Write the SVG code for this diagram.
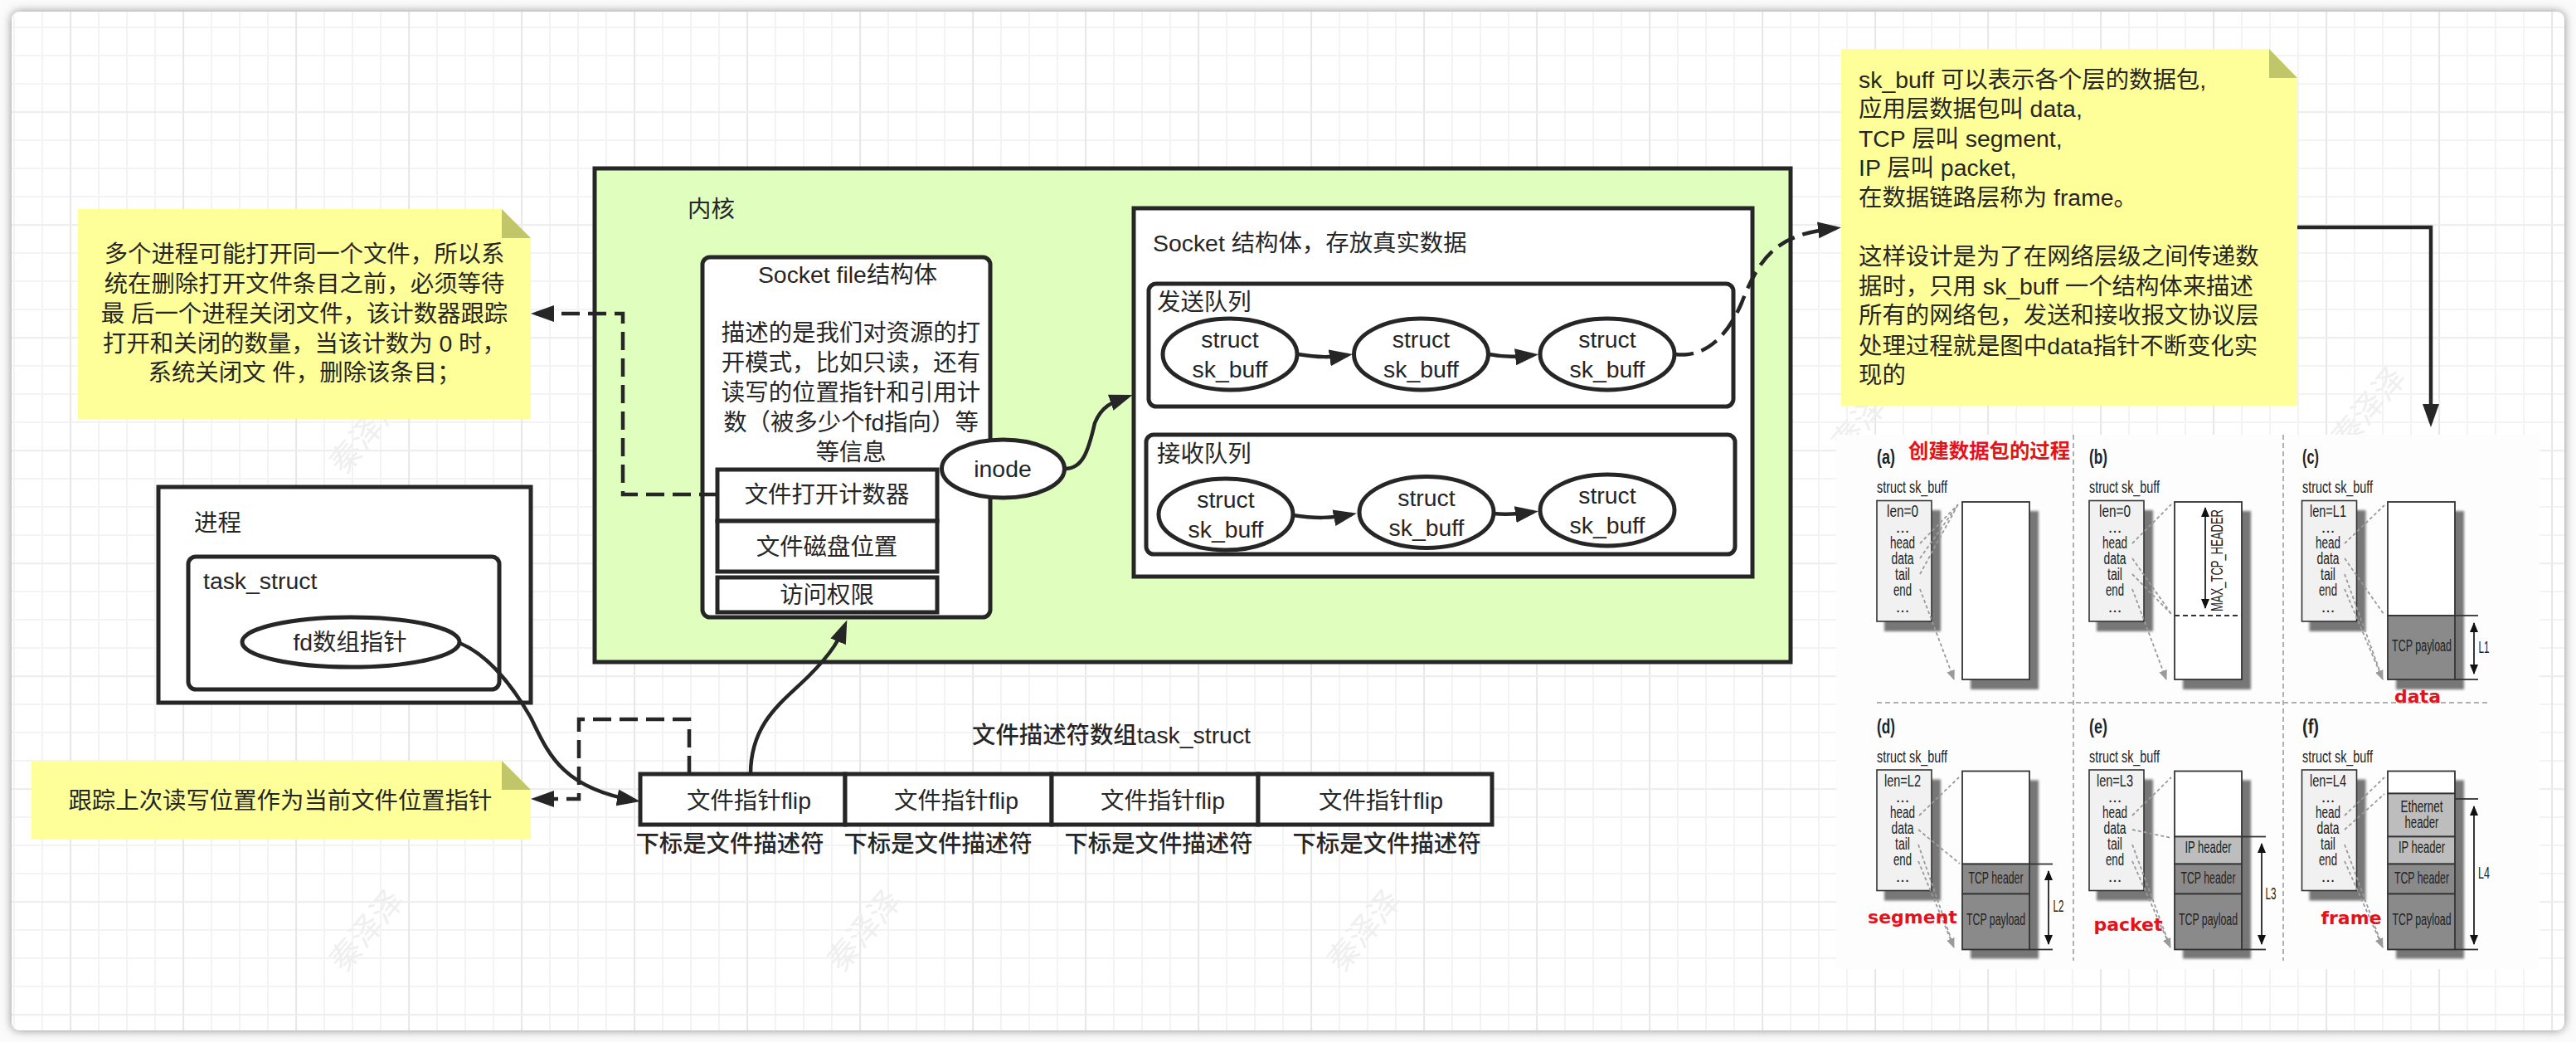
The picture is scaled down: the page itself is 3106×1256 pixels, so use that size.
<svg xmlns="http://www.w3.org/2000/svg" xmlns:xlink="http://www.w3.org/1999/xlink" width="3106" height="1256" viewBox="0 0 3106 1256">
<style>
text{font-family:"Liberation Sans","Noto Sans CJK SC",sans-serif;fill:#262626}
.t{font-size:28.4px}
.m{text-anchor:middle}
.b{stroke:#262626;stroke-width:5;fill:#fff}
.note{fill:#ffff99}
.fold{fill:#c2c66b}
.c{fill:none;stroke:#262626;stroke-width:4.5}
.d{stroke-dasharray:22 10}
.wm{font-size:38px;fill:#efefef;text-anchor:middle}
.s{font-size:20px;text-anchor:middle;fill:#222}
.h{font-size:20px;fill:#222}
.l{font-size:23px;font-weight:bold;fill:#222}
.red{font-family:"DejaVu Sans",sans-serif;font-size:22px;font-weight:bold;fill:#e3131b;text-anchor:middle}
.sb{fill:#f1f1f1;stroke:#333;stroke-width:1.6}
.bf{fill:#fff;stroke:#333;stroke-width:1.8}
.sh{fill:#777;filter:url(#bl)}
.dk{fill:#8a8a8a;stroke:#333;stroke-width:1.8}
.lt{fill:#bdbdbd;stroke:#333;stroke-width:1.8}
.ar{fill:none;stroke:#9a9a9a;stroke-width:1.8;stroke-dasharray:4 3;marker-end:url(#ga)}
.rf{stroke:#333;stroke-width:1.8}
.dm{stroke:#222;stroke-width:1.8;marker-start:url(#ka);marker-end:url(#ka)}
.dv{stroke:#b0b0b0;stroke-width:2;stroke-dasharray:6 4}
</style>
<defs>
<pattern id="grid" patternUnits="userSpaceOnUse" x="84" y="134" width="136" height="136">
<path d="M35 0V136M69 0V136M103 0V136M0 35H136M0 69H136M0 103H136" stroke="#f3f3f3" stroke-width="2" fill="none"/>
<path d="M1 0V136" stroke="#e8e8e8" stroke-width="2.4" fill="none"/>
<path d="M0 1H136" stroke="#eeeeee" stroke-width="2.4" fill="none"/>
</pattern>
<filter id="shadow" x="-2%" y="-4%" width="104%" height="108%"><feGaussianBlur stdDeviation="6"/></filter>
<filter id="bl" x="-10%" y="-10%" width="120%" height="120%"><feGaussianBlur stdDeviation="1.4"/></filter>
<marker id="a" markerUnits="userSpaceOnUse" markerWidth="30" markerHeight="22" refX="22" refY="11" orient="auto"><path d="M0 1L28 11L0 21Z" fill="#262626"/></marker>
<marker id="ga" markerUnits="userSpaceOnUse" markerWidth="14" markerHeight="12" refX="11" refY="5" orient="auto"><path d="M0 0L12 5L0 10Z" fill="#9a9a9a"/></marker>
<marker id="ka" markerUnits="userSpaceOnUse" markerWidth="14" markerHeight="12" refX="11" refY="5" orient="auto-start-reverse"><path d="M0 0L12 5L0 10Z" fill="#111"/></marker>
<g id="skb">
<rect class="sh" x="2272" y="615" width="68" height="146"/>
<rect class="sb" x="2263" y="603.5" width="66" height="145.5"/>
</g>
<g id="buf">
<rect class="sh" x="2376" y="616" width="82" height="215"/>
</g>
</defs>
<rect width="3106" height="1256" fill="#fbfbfb"/>
<rect x="14" y="14" width="3078" height="1228" rx="9" fill="#8a8a8a" filter="url(#shadow)"/>
<rect x="14" y="14" width="3078" height="1228" rx="9" fill="#fff"/>
<rect x="14" y="14" width="3078" height="1228" rx="9" fill="url(#grid)"/>
<g id="watermarks">
<text class="wm" transform="translate(452,530) rotate(-50)">秦泽泽</text>
<text class="wm" transform="translate(2263,506) rotate(-50)">秦泽泽</text>
<text class="wm" transform="translate(2866,500) rotate(-50)">秦泽泽</text>
<text class="wm" transform="translate(452,1130) rotate(-50)">秦泽泽</text>
<text class="wm" transform="translate(1052,1130) rotate(-50)">秦泽泽</text>
<text class="wm" transform="translate(1655,1130) rotate(-50)">秦泽泽</text>
</g>
<g id="note-close">
<path class="note" d="M94 252H605L640 287V505H94Z"/><path class="fold" d="M605 252L640 287H605Z"/>
<text class="t m" x="367" y="316">多个进程可能打开同一个文件，所以系</text>
<text class="t m" x="367" y="352">统在删除打开文件条目之前，必须等待</text>
<text class="t m" x="367" y="388">最 后一个进程关闭文件，该计数器跟踪</text>
<text class="t m" x="367" y="424">打开和关闭的数量，当该计数为 0 时，</text>
<text class="t m" x="367" y="459">系统关闭文 件，删除该条目；</text>
</g>
<g id="note-pos">
<path class="note" d="M38 917H605L640 952V1012H38Z"/><path class="fold" d="M605 917L640 952H605Z"/>
<text class="t m" x="338" y="975">跟踪上次读写位置作为当前文件位置指针</text>
</g>
<g id="process">
<rect class="b" x="191" y="587" width="449" height="260"/>
<text class="t" x="234" y="640">进程</text>
</g>
<g id="task-struct">
<rect class="b" x="227" y="671" width="375" height="160" rx="9"/>
<text class="t" x="245" y="710">task_struct</text>
</g>
<g id="fd-array">
<ellipse class="b" cx="423" cy="774" rx="131" ry="30"/>
<text class="t m" x="422" y="784">fd数组指针</text>
</g>
<g id="kernel">
<rect x="717" y="203" width="1442" height="595" fill="#e0ffbf" stroke="#262626" stroke-width="5"/>
<text class="t" x="829" y="262">内核</text>
</g>
<g id="socket-file">
<rect class="b" x="847" y="310" width="347" height="434" rx="9"/>
<text class="t m" x="1022" y="341">Socket file结构体</text>
<text class="t m" x="1026" y="411">描述的是我们对资源的打</text>
<text class="t m" x="1026" y="447">开模式，比如只读，还有</text>
<text class="t m" x="1026" y="483">读写的位置指针和引用计</text>
<text class="t m" x="1026" y="519">数（被多少个fd指向）等</text>
<text class="t m" x="1026" y="555">等信息</text>
</g>
<g id="row-open"><rect class="b" x="865" y="566" width="265" height="62"/><text class="t m" x="997" y="606">文件打开计数器</text></g>
<g id="row-disk"><rect class="b" x="865" y="628" width="265" height="61"/><text class="t m" x="997" y="669">文件磁盘位置</text></g>
<g id="row-perm"><rect class="b" x="865" y="696" width="265" height="42"/><text class="t m" x="997" y="727">访问权限</text></g>
<g id="inode"><ellipse class="b" cx="1209.5" cy="565" rx="74" ry="35"/><text class="t m" x="1209" y="575">inode</text></g>
<g id="socket">
<rect class="b" x="1367" y="251" width="746" height="444"/>
<text class="t" x="1390" y="303">Socket 结构体，存放真实数据</text>
</g>
<g id="send-queue">
<rect class="b" x="1385" y="342" width="705" height="148" rx="9"/>
<text class="t" x="1395" y="374">发送队列</text>
</g>
<g id="recv-queue">
<rect class="b" x="1382" y="524" width="710" height="144" rx="9"/>
<text class="t" x="1395" y="557">接收队列</text>
</g>
<g id="s1"><ellipse class="b" cx="1483" cy="427" rx="81" ry="43"/><text class="t m" x="1483" y="419">struct</text><text class="t m" x="1483" y="455">sk_buff</text></g>
<g id="s2"><ellipse class="b" cx="1713.5" cy="427" rx="81" ry="43"/><text class="t m" x="1713.5" y="419">struct</text><text class="t m" x="1713.5" y="455">sk_buff</text></g>
<g id="s3"><ellipse class="b" cx="1938" cy="427" rx="81" ry="43"/><text class="t m" x="1938" y="419">struct</text><text class="t m" x="1938" y="455">sk_buff</text></g>
<g id="r1"><ellipse class="b" cx="1478" cy="620" rx="81" ry="43"/><text class="t m" x="1478" y="612">struct</text><text class="t m" x="1478" y="648">sk_buff</text></g>
<g id="r2"><ellipse class="b" cx="1720" cy="617.5" rx="81" ry="43"/><text class="t m" x="1720" y="610">struct</text><text class="t m" x="1720" y="646">sk_buff</text></g>
<g id="r3"><ellipse class="b" cx="1938" cy="615" rx="81" ry="43"/><text class="t m" x="1938" y="607">struct</text><text class="t m" x="1938" y="643">sk_buff</text></g>
<g id="flip-array">
<rect class="b" x="772" y="933" width="247" height="61"/>
<rect class="b" x="1019" y="933" width="249" height="61"/>
<rect class="b" x="1268" y="933" width="249" height="61"/>
<rect class="b" x="1517" y="933" width="282" height="61"/>
<text class="t m" x="903" y="975">文件指针flip</text>
<text class="t m" x="1153" y="975">文件指针flip</text>
<text class="t m" x="1402" y="975">文件指针flip</text>
<text class="t m" x="1665" y="975">文件指针flip</text>
<text class="t m" x="880" y="1027" font-weight="500">下标是文件描述符</text>
<text class="t m" x="1131" y="1027" font-weight="500">下标是文件描述符</text>
<text class="t m" x="1397" y="1027" font-weight="500">下标是文件描述符</text>
<text class="t m" x="1672" y="1027" font-weight="500">下标是文件描述符</text>
<text class="t m" x="1340" y="896" font-weight="500">文件描述符数组task_struct</text>
</g>
<g id="note-skb">
<path class="note" d="M2220 59H2736L2770 94V489H2220Z"/><path class="fold" d="M2736 59L2770 94H2736Z"/>
<text class="t" x="2241" y="106">sk_buff 可以表示各个层的数据包,</text>
<text class="t" x="2241" y="141">应用层数据包叫 data,</text>
<text class="t" x="2241" y="177">TCP 层叫 segment,</text>
<text class="t" x="2241" y="212">IP 层叫 packet,</text>
<text class="t" x="2241" y="248">在数据链路层称为 frame。</text>
<text class="t" x="2241" y="319">这样设计是为了在网络层级之间传递数</text>
<text class="t" x="2241" y="355">据时，只用 sk_buff 一个结构体来描述</text>
<text class="t" x="2241" y="390">所有的网络包，发送和接收报文协议层</text>
<text class="t" x="2241" y="427">处理过程就是图中data指针不断变化实</text>
<text class="t" x="2241" y="462">现的</text>
</g>
<g id="connectors">
<path class="c d" d="M865 596H751V378H646" marker-end="url(#a)"/>
<path class="c d" d="M831 933V867H698V963H646" marker-end="url(#a)"/>
<path class="c" d="M554 775C590 790 620 830 640 865C660 905 675 950 766 965" marker-end="url(#a)"/>
<path class="c" d="M905 933C905 870 945 845 975 815C1005 785 1012 770 1019 753" marker-end="url(#a)"/>
<path class="c" d="M1284 565C1305 565 1312 545 1320 510C1328 490 1340 485 1360 478" marker-end="url(#a)"/>
<path class="c" d="M1565 427C1590 431 1605 431 1625 428" marker-end="url(#a)"/>
<path class="c" d="M1795 427C1815 431 1830 430 1849 428" marker-end="url(#a)"/>
<path class="c" d="M1559 621C1585 625 1605 625 1630 620" marker-end="url(#a)"/>
<path class="c" d="M1801 619C1820 621 1835 619 1849 617" marker-end="url(#a)"/>
<path class="c d" d="M2020 427C2060 432 2085 400 2100 365C2125 300 2150 282 2214 275" marker-end="url(#a)"/>
<path class="c" d="M2770 274H2931V509" marker-end="url(#a)"/>
</g>
<g id="skb-figure">
<rect x="2214" y="524" width="848" height="644" fill="#fdfdfd"/>
<line class="dv" x1="2500" y1="524" x2="2500" y2="1158"/>
<line class="dv" x1="2753" y1="524" x2="2753" y2="1158"/>
<line class="dv" x1="2263" y1="847" x2="3003" y2="847"/>

<g id="panel-a">
<use href="#skb"/><use href="#buf"/>
<rect class="bf" x="2366" y="605" width="81" height="214"/>
<text class="l" x="2263" y="559" textLength="22" lengthAdjust="spacingAndGlyphs">(a)</text>
<text class="h" x="2263" y="594" textLength="85" lengthAdjust="spacingAndGlyphs">struct sk_buff</text>
<text class="s" x="2294" y="623" textLength="38" lengthAdjust="spacingAndGlyphs">len=0</text>
<text class="s" x="2294" y="642">...</text>
<text class="s" x="2294" y="661" textLength="30" lengthAdjust="spacingAndGlyphs">head</text>
<text class="s" x="2294" y="680" textLength="27" lengthAdjust="spacingAndGlyphs">data</text>
<text class="s" x="2294" y="699" textLength="18" lengthAdjust="spacingAndGlyphs">tail</text>
<text class="s" x="2294" y="718" textLength="22" lengthAdjust="spacingAndGlyphs">end</text>
<text class="s" x="2294" y="738">...</text>
<path class="ar" d="M2315 655L2361 608M2315 673L2361 608M2315 692L2361 608M2315 710L2356 819"/>
</g>

<g id="panel-b" >
<use href="#skb" x="256"/><use href="#buf" x="256"/>
<rect class="bf" x="2622" y="605" width="81" height="214"/>
<line class="dv" x1="2622" y1="742" x2="2703" y2="742" style="stroke:#333"/>
<line class="dm" x1="2659" y1="612" x2="2659" y2="733"/>
<text class="s" transform="translate(2680,675.5) rotate(-90)" textLength="123" lengthAdjust="spacingAndGlyphs">MAX_TCP_HEADER</text>
<text class="l" x="2519" y="559" textLength="22" lengthAdjust="spacingAndGlyphs">(b)</text>
<text class="h" x="2519" y="594" textLength="85" lengthAdjust="spacingAndGlyphs">struct sk_buff</text>
<text class="s" x="2550" y="623" textLength="38" lengthAdjust="spacingAndGlyphs">len=0</text>
<text class="s" x="2550" y="642">...</text>
<text class="s" x="2550" y="661" textLength="30" lengthAdjust="spacingAndGlyphs">head</text>
<text class="s" x="2550" y="680" textLength="27" lengthAdjust="spacingAndGlyphs">data</text>
<text class="s" x="2550" y="699" textLength="18" lengthAdjust="spacingAndGlyphs">tail</text>
<text class="s" x="2550" y="718" textLength="22" lengthAdjust="spacingAndGlyphs">end</text>
<text class="s" x="2550" y="738">...</text>
<path class="ar" d="M2571 655L2618 608M2571 673L2618 740M2571 692L2618 740M2571 710L2612 819"/>
</g>

<g id="panel-c">
<use href="#skb" x="512.5"/><use href="#buf" x="513"/>
<rect class="bf" x="2879" y="605" width="81" height="137"/>
<rect class="dk" x="2879" y="742" width="81" height="77"/>
<line class="rf" x1="2960" y1="742" x2="2988" y2="742"/><line class="rf" x1="2960" y1="819" x2="2988" y2="819"/>
<line class="dm" x1="2983" y1="751" x2="2983" y2="812"/>
<text class="s" x="2995" y="787" textLength="13" lengthAdjust="spacingAndGlyphs">L1</text>
<text class="s" x="2920" y="785" textLength="72" lengthAdjust="spacingAndGlyphs">TCP payload</text>
<text class="l" x="2776" y="559" textLength="20" lengthAdjust="spacingAndGlyphs">(c)</text>
<text class="h" x="2776" y="594" textLength="85" lengthAdjust="spacingAndGlyphs">struct sk_buff</text>
<text class="s" x="2807" y="623" textLength="44" lengthAdjust="spacingAndGlyphs">len=L1</text>
<text class="s" x="2807" y="642">...</text>
<text class="s" x="2807" y="661" textLength="30" lengthAdjust="spacingAndGlyphs">head</text>
<text class="s" x="2807" y="680" textLength="27" lengthAdjust="spacingAndGlyphs">data</text>
<text class="s" x="2807" y="699" textLength="18" lengthAdjust="spacingAndGlyphs">tail</text>
<text class="s" x="2807" y="718" textLength="22" lengthAdjust="spacingAndGlyphs">end</text>
<text class="s" x="2807" y="738">...</text>
<path class="ar" d="M2827 655L2875 609M2827 673L2874 740M2827 692L2873 819M2827 710L2873 819"/>
</g>

<g id="panel-d">
<use href="#skb" y="324.5"/><use href="#buf" y="324.5"/>
<rect class="bf" x="2366" y="929.5" width="81" height="112"/>
<rect class="dk" x="2366" y="1041.5" width="81" height="36"/>
<rect class="dk" x="2366" y="1077.5" width="81" height="67"/>
<line class="rf" x1="2447" y1="1041.5" x2="2475" y2="1041.5"/><line class="rf" x1="2447" y1="1144.5" x2="2475" y2="1144.5"/>
<line class="dm" x1="2470" y1="1050" x2="2470" y2="1138"/>
<text class="s" x="2482" y="1099" textLength="13" lengthAdjust="spacingAndGlyphs">L2</text>
<text class="s" x="2406.5" y="1065" textLength="66" lengthAdjust="spacingAndGlyphs">TCP header</text>
<text class="s" x="2406.5" y="1115" textLength="71" lengthAdjust="spacingAndGlyphs">TCP payload</text>
<text class="l" x="2263" y="884" textLength="22" lengthAdjust="spacingAndGlyphs">(d)</text>
<text class="h" x="2263" y="919" textLength="85" lengthAdjust="spacingAndGlyphs">struct sk_buff</text>
<text class="s" x="2294" y="948" textLength="44" lengthAdjust="spacingAndGlyphs">len=L2</text>
<text class="s" x="2294" y="967">...</text>
<text class="s" x="2294" y="986" textLength="30" lengthAdjust="spacingAndGlyphs">head</text>
<text class="s" x="2294" y="1005" textLength="27" lengthAdjust="spacingAndGlyphs">data</text>
<text class="s" x="2294" y="1024" textLength="18" lengthAdjust="spacingAndGlyphs">tail</text>
<text class="s" x="2294" y="1043" textLength="22" lengthAdjust="spacingAndGlyphs">end</text>
<text class="s" x="2294" y="1063">...</text>
<path class="ar" d="M2314 983L2362 937M2313 1000L2363 1041M2313 1018L2356 1142M2313 1038L2356 1142"/>
</g>

<g id="panel-e">
<use href="#skb" x="256" y="324.5"/><use href="#buf" x="256" y="324.5"/>
<rect class="bf" x="2622" y="929.5" width="81" height="79"/>
<rect class="lt" x="2622" y="1008.5" width="81" height="33"/>
<rect class="dk" x="2622" y="1041.5" width="81" height="36"/>
<rect class="dk" x="2622" y="1077.5" width="81" height="67"/>
<line class="rf" x1="2703" y1="1008.5" x2="2732" y2="1008.5"/><line class="rf" x1="2703" y1="1144.5" x2="2732" y2="1144.5"/>
<line class="dm" x1="2727" y1="1017" x2="2727" y2="1138"/>
<text class="s" x="2738" y="1084" textLength="13" lengthAdjust="spacingAndGlyphs">L3</text>
<text class="s" x="2662.5" y="1028" textLength="56" lengthAdjust="spacingAndGlyphs">IP header</text>
<text class="s" x="2662.5" y="1065" textLength="66" lengthAdjust="spacingAndGlyphs">TCP header</text>
<text class="s" x="2662.5" y="1115" textLength="71" lengthAdjust="spacingAndGlyphs">TCP payload</text>
<text class="l" x="2519" y="884" textLength="22" lengthAdjust="spacingAndGlyphs">(e)</text>
<text class="h" x="2519" y="919" textLength="85" lengthAdjust="spacingAndGlyphs">struct sk_buff</text>
<text class="s" x="2550" y="948" textLength="44" lengthAdjust="spacingAndGlyphs">len=L3</text>
<text class="s" x="2550" y="967">...</text>
<text class="s" x="2550" y="986" textLength="30" lengthAdjust="spacingAndGlyphs">head</text>
<text class="s" x="2550" y="1005" textLength="27" lengthAdjust="spacingAndGlyphs">data</text>
<text class="s" x="2550" y="1024" textLength="18" lengthAdjust="spacingAndGlyphs">tail</text>
<text class="s" x="2550" y="1043" textLength="22" lengthAdjust="spacingAndGlyphs">end</text>
<text class="s" x="2550" y="1063">...</text>
<path class="ar" d="M2571 983L2618 937M2571 1000L2618 1010M2571 1018L2617 1142M2571 1038L2617 1142"/>
</g>

<g id="panel-f">
<use href="#skb" x="512.5" y="324.5"/><use href="#buf" x="513" y="324.5"/>
<rect class="bf" x="2879" y="929.5" width="81" height="27"/>
<rect class="lt" x="2879" y="956.5" width="81" height="52"/>
<rect class="lt" x="2879" y="1008.5" width="81" height="33"/>
<rect class="dk" x="2879" y="1041.5" width="81" height="36"/>
<rect class="dk" x="2879" y="1077.5" width="81" height="67"/>
<line class="rf" x1="2960" y1="963" x2="2988" y2="963"/><line class="rf" x1="2960" y1="1144.5" x2="2988" y2="1144.5"/>
<line class="dm" x1="2983" y1="972" x2="2983" y2="1138"/>
<text class="s" x="2995" y="1059" textLength="14" lengthAdjust="spacingAndGlyphs">L4</text>
<text class="s" x="2920" y="979" textLength="51" lengthAdjust="spacingAndGlyphs">Ethernet</text>
<text class="s" x="2920" y="998" textLength="41" lengthAdjust="spacingAndGlyphs">header</text>
<text class="s" x="2920" y="1028" textLength="56" lengthAdjust="spacingAndGlyphs">IP header</text>
<text class="s" x="2920" y="1065" textLength="66" lengthAdjust="spacingAndGlyphs">TCP header</text>
<text class="s" x="2920" y="1115" textLength="71" lengthAdjust="spacingAndGlyphs">TCP payload</text>
<text class="l" x="2776" y="884" textLength="20" lengthAdjust="spacingAndGlyphs">(f)</text>
<text class="h" x="2776" y="919" textLength="85" lengthAdjust="spacingAndGlyphs">struct sk_buff</text>
<text class="s" x="2807" y="948" textLength="44" lengthAdjust="spacingAndGlyphs">len=L4</text>
<text class="s" x="2807" y="967">...</text>
<text class="s" x="2807" y="986" textLength="30" lengthAdjust="spacingAndGlyphs">head</text>
<text class="s" x="2807" y="1005" textLength="27" lengthAdjust="spacingAndGlyphs">data</text>
<text class="s" x="2807" y="1024" textLength="18" lengthAdjust="spacingAndGlyphs">tail</text>
<text class="s" x="2807" y="1043" textLength="22" lengthAdjust="spacingAndGlyphs">end</text>
<text class="s" x="2807" y="1063">...</text>
<path class="ar" d="M2827 983L2875 937M2827 1000L2875 957M2827 1018L2873 1142M2827 1038L2873 1142"/>
</g>

<text x="2301" y="552" font-size="24.4" font-weight="bold" style="fill:#e3131b">创建数据包的过程</text>
<text class="red" x="2915" y="847">data</text>
<text class="red" x="2306" y="1113">segment</text>
<text class="red" x="2566" y="1122">packet</text>
<text class="red" x="2835" y="1114">frame</text>
</g>
</svg>
